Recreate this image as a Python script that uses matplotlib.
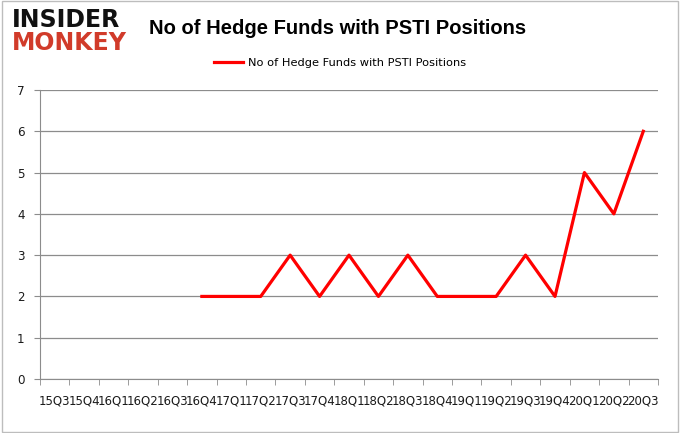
import matplotlib
matplotlib.use("Agg")
import matplotlib.pyplot as plt
import numpy as np

# ─────────────────────────────────────────────
# Donnees
# ─────────────────────────────────────────────
quarters = ["15Q3", "15Q4", "16Q1", "16Q2", "16Q3", "16Q4", "17Q1", "17Q2",
            "17Q3", "17Q4", "18Q1", "18Q2", "18Q3", "18Q4", "19Q1", "19Q2",
            "19Q3", "19Q4", "20Q1", "20Q2", "20Q3"]
hedge_funds = [None, None, None, None, None, 2, 2, 2,
               3, 2, 3, 2, 3, 2, 2, 2,
               3, 2, 5, 4, 6]
series_label = "No of Hedge Funds with PSTI Positions"
title = "No of Hedge Funds with PSTI Positions"

x = np.arange(len(quarters))
y = np.array([np.nan if v is None else v for v in hedge_funds], dtype=float)

fig = plt.figure(figsize=(6.8, 4.33), dpi=100)
ax = fig.add_axes([40 / 680, 1 - 379 / 433, 618 / 680, 289 / 433])

ax.plot(x, y, color="#ff0000", linewidth=2.3, label=series_label)

ax.set_xlim(-0.5, len(quarters) - 0.5)
ax.set_ylim(0, 7)
ax.set_yticks(range(0, 8))
ax.yaxis.grid(True, color="#8c8c8c", linewidth=0.9)
ax.set_axisbelow(True)

# ticks entre categories (style Excel), etiquettes au centre
ax.set_xticks(x)
ax.set_xticklabels(quarters, fontsize=8.5, color="#1a1a1a")
ax.set_xticks(np.arange(-0.5, len(quarters)), minor=True)
ax.tick_params(axis="x", which="major", length=0, pad=11)
ax.tick_params(axis="x", which="minor", length=4, color="#8c8c8c", direction="out")
ax.tick_params(axis="y", length=4, color="#8c8c8c", labelsize=8.6,
               labelcolor="#1a1a1a", pad=7)

for side in ["top", "right"]:
    ax.spines[side].set_visible(False)
ax.spines["left"].set_color("#8c8c8c")
ax.spines["bottom"].set_color("#8c8c8c")

fig.text(338 / 680, 1 - 28 / 433, title, ha="center", va="center",
         fontsize=14.5, fontweight="bold", family="Liberation Sans")

ax.legend(loc="center", bbox_to_anchor=(340 / 680, 1 - 63 / 433),
          bbox_transform=fig.transFigure, frameon=False, fontsize=8.2,
          handlelength=2.6, handletextpad=0.4)

# logo
fig.text(12 / 680, 1 - 20 / 433, "INSIDER", fontsize=17, fontweight="heavy",
         color="#111111", va="center", ha="left", family="DejaVu Sans")
fig.text(12 / 680, 1 - 43 / 433, "MONKEY", fontsize=17, fontweight="heavy",
         color="#d13b2a", va="center", ha="left", family="DejaVu Sans")

# cadre
fig.patches.append(plt.Rectangle((0.003, 0.003), 0.994, 0.994, fill=False,
                                 edgecolor="#bdbdbd", linewidth=1,
                                 transform=fig.transFigure))

fig.savefig("out.png", dpi=100)
